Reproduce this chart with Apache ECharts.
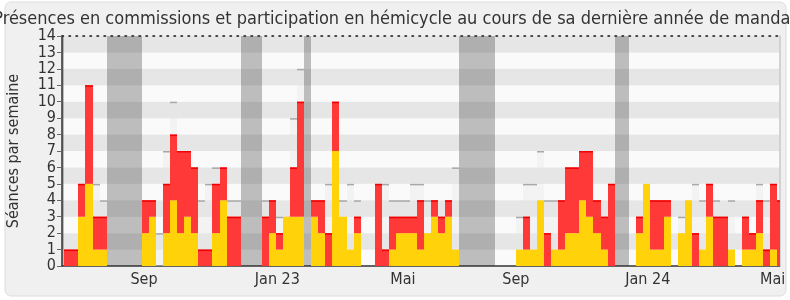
<!DOCTYPE html>
<html>
<head>
<meta charset="utf-8">
<script src="https://cdn.jsdelivr.net/npm/echarts@6/dist/echarts.min.js"></script>
<style>
html,body{margin:0;padding:0;background:#ffffff;}
#chart{width:790px;height:300px;}
</style>
</head>
<body>
<div id="chart"></div>
<script>
// Weekly values, week 0 (starting Mon 27 June 2022) .. week 101
const hemicycle = [0,0,3,5,1,1,0,0,0,0,0,2,3,0,2,4,2,3,2,0,0,2,4,0,0,0,0,0,0,2,1,3,3,3,0,3,2,0,7,3,1,2,0,0,0,0,1,2,2,2,1,2,3,2,3,1,0,0,0,0,0,0,0,0,1,1,1,4,0,1,1,2,2,4,3,2,1,0,0,0,0,2,5,1,1,3,0,2,4,0,1,3,0,0,1,0,1,1,2,0,1,0];
const commission = [1,1,2,6,2,2,0,0,0,0,0,2,1,0,3,4,5,4,4,1,1,3,2,3,3,0,0,0,3,2,1,0,3,7,0,1,2,2,3,0,0,1,0,0,5,1,2,1,1,1,3,0,1,1,1,0,0,0,0,0,0,0,0,0,0,2,0,0,2,0,3,4,4,3,4,2,2,5,0,0,0,1,0,3,3,1,0,0,0,2,0,2,3,3,0,0,2,1,2,1,4,4];
const medianDeputes = [0,0,0,0,5,4,0,0,0,0,0,0,0,2,7,10,0,0,0,4,5,6,0,4,4,0,0,0,4,0,3,0,9,12,0,0,0,5,0,4,5,4,0,0,0,5,4,4,4,5,5,4,0,0,0,6,0,0,0,0,0,0,0,0,3,5,5,7,4,4,0,0,0,0,0,0,0,0,0,0,0,0,0,0,0,0,0,3,0,5,4,0,4,0,4,0,0,0,5,4,0,0];
// Vacation periods (week index start, end)
const vacationStart = [-1, 6, 25, 34, 56, 78];
const vacationEnd   = [0, 11, 28, 35, 61, 80];
// X tick labels and the week position they mark
const tickLabels = ['Sep', 'Jan 23', 'Mai', 'Sep', 'Jan 24', 'Mai'];
const tickWeeks  = [11.3, 30.2, 48.0, 64.0, 82.7, 100.4];
const yTicks = [0,1,2,3,4,5,6,7,8,9,10,11,12,13,14];

const FONT = "'DejaVu Sans Condensed', 'DejaVu Sans', sans-serif";
const wMin = -0.33, wMax = 101.37;

function barRender(fill, cap, capPx) {
  return function (params, api) {
    const i = api.value(0), base = api.value(1), h = api.value(2);
    if (!(h > 0)) return null;
    const pTop = api.coord([i, base + h]);
    const pBot = api.coord([i + 1, base]);
    const x0 = Math.round(pTop[0]), x1 = Math.round(pBot[0]);
    const y0 = pTop[1], y1 = pBot[1];
    const children = [{
      type: 'rect', shape: {x: x0, y: y0, width: x1 - x0, height: y1 - y0},
      style: {fill: fill}
    }];
    if (cap) children.push({
      type: 'rect', shape: {x: x0, y: y0, width: x1 - x0, height: capPx},
      style: {fill: cap}
    });
    return {type: 'group', children: children};
  };
}

const chart = echarts.init(document.getElementById('chart'), null, {renderer: 'canvas'});
const baseCustom = {type: 'custom', silent: true, clip: true, animation: false,
  dimensions: ['week', 'base', 'value'], encode: {x: 0, y: 2}};

chart.setOption({
  animation: false,
  graphic: [{
    type: 'rect', z: -10, silent: true,
    shape: {x: 5, y: 2, width: 781, height: 294, r: 6},
    style: {fill: '#F0F0F0', stroke: '#DCDCDC', lineWidth: 1}
  }],
  title: {
    text: 'Présences en commissions et participation en hémicycle au cours de sa dernière année de mandat',
    left: 'center', top: 5,
    textStyle: {fontFamily: FONT, fontSize: 18, fontWeight: 'normal', color: '#333'}
  },
  grid: {left: 62, right: 10.5, top: 36, bottom: 34, containLabel: false, outerBoundsMode: 'none'},
  xAxis: [{
    type: 'value', min: wMin, max: wMax, position: 'bottom',
    axisLine: {show: true, onZero: false, lineStyle: {color: '#333', width: 1.5}},
    axisTick: {show: false},
    splitLine: {show: false},
    axisLabel: {
      customValues: tickWeeks,
      formatter: v => { let k = 0; tickWeeks.forEach((t, j) => { if (Math.abs(t - v) < Math.abs(tickWeeks[k] - v)) k = j; }); return tickLabels[k]; },
      fontFamily: FONT, fontSize: 16, color: '#333', margin: 6
    }
  }, {
    type: 'value', min: wMin, max: wMax, position: 'top',
    axisLine: {show: true, onZero: false, lineStyle: {color: '#111', width: 1.5, type: [1.5, 5.5]}},
    axisTick: {show: false}, axisLabel: {show: false}, splitLine: {show: false}
  }],
  yAxis: [{
    type: 'value', min: 0, max: 14, interval: 1,
    name: 'Séances par semaine', nameLocation: 'middle', nameGap: 40,
    nameTextStyle: {fontFamily: FONT, fontSize: 16, color: '#333'},
    axisLine: {show: true, onZero: false, lineStyle: {color: '#333', width: 1.5}},
    axisTick: {show: true, length: 5, lineStyle: {color: '#666'}},
    axisLabel: {fontFamily: FONT, fontSize: 16, color: '#333', margin: 6,
      formatter: v => yTicks.includes(v) ? String(v) : ''},
    splitLine: {show: false},
    splitArea: {show: true, areaStyle: {color: ['#FAFAFA', '#E6E6E6']}}
  }, {
    type: 'value', min: 0, max: 14, interval: 1, position: 'right',
    axisLine: {show: true, onZero: false, lineStyle: {color: '#C8C8C8', width: 1.5}},
    axisTick: {show: false}, axisLabel: {show: false}, splitLine: {show: false}
  }],
  series: [
    Object.assign({}, baseCustom, {
      name: 'Vacances',
      dimensions: ['start', 'end'], encode: {x: [0, 1]},
      data: vacationStart.map((s, k) => [s, vacationEnd[k]]),
      renderItem: function (params, api) {
        const a = api.coord([api.value(0), 14]);
        const b = api.coord([api.value(1), 0]);
        return {type: 'rect', shape: {x: Math.round(a[0]), y: a[1], width: Math.round(b[0]) - Math.round(a[0]), height: b[1] - a[1]},
          style: {fill: 'rgba(50,50,50,0.3)'}};
      }
    }),
    Object.assign({}, baseCustom, {
      name: 'Médiane',
      data: medianDeputes.map((v, i) => [i, 0, v]),
      renderItem: barRender('rgba(230,230,230,0.35)', '#A8A8A8', 1.5)
    }),
    Object.assign({}, baseCustom, {
      name: 'Hémicycle',
      data: hemicycle.map((v, i) => [i, 0, v]),
      renderItem: barRender('#FFD20A', null, 0)
    }),
    Object.assign({}, baseCustom, {
      name: 'Commission',
      data: commission.map((v, i) => [i, hemicycle[i], v]),
      renderItem: barRender('#FF3838', '#F00000', 1.5)
    })
  ]
});
</script>
</body>
</html>
